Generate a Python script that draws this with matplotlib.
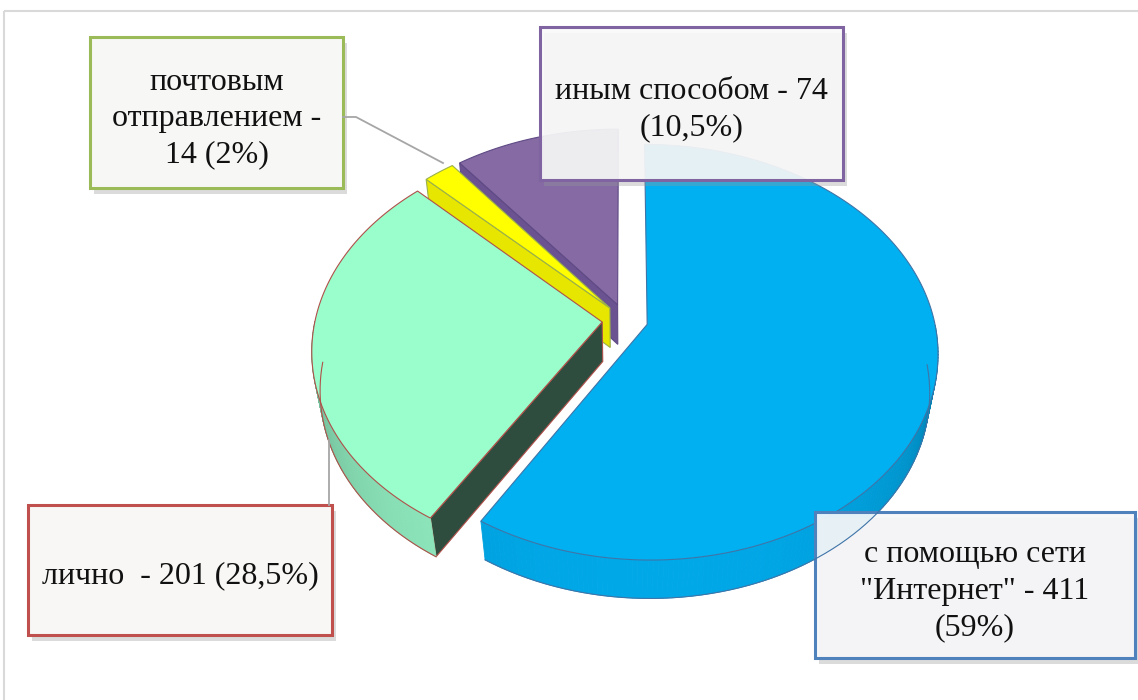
import numpy as np
import matplotlib
matplotlib.use("Agg")
import matplotlib.pyplot as plt
from matplotlib.patches import Polygon, Rectangle
import matplotlib.patheffects as pe
from matplotlib.colors import to_rgb

plt.rcParams['font.family'] = ['Liberation Serif', 'DejaVu Serif']

# данные
categories = ['с помощью сети\n"Интернет" - 411\n(59%)',
              'лично  - 201 (28,5%)',
              'почтовым\nотправлением -\n14 (2%)',
              'иным способом - 74\n(10,5%)']
counts = [411, 201, 14, 74]

top_colors = ['#00b0f0', '#99fecb', '#ffff00', '#856aa4']
side_colors = ['#00a8e8', '#90ecc0', '#e8e800', '#735a93']
face_colors = ['#0080c0', '#2f4d3f', '#e6e600', '#6b5290']
edge_colors = ['#3f74a8', '#b0504a', '#9bb04a', '#5f4a85']
box_colors = ['#4f81bd', '#c0504d', '#9bbb59', '#8064a2']

# геометрия (в пикселях)
CX, CY, R = 625, 320, 287
EL = np.radians(45)
DIST = 5.3
H = 0.2
EXPLODE = 0.08
START = 90


def project(x, y, z):
    ca, sa = np.cos(EL), np.sin(EL)
    up = y * sa + z * ca
    depth = y * ca - z * sa
    s = DIST / (DIST + depth)
    return CX + R * x * s, CY - R * up * s


def shade(color, k):
    c = np.array(to_rgb(color))
    return tuple(np.clip(c * k, 0, 1))


fig = plt.figure(figsize=(11.38, 7.0), dpi=100)
ax = fig.add_axes([0, 0, 1, 1])
ax.set_xlim(0, 1138)
ax.set_ylim(700, 0)
ax.axis('off')

ax.add_patch(Rectangle((4, 11), 1140, 700, fill=False, edgecolor='#d9d9d9', lw=1.5))

total = sum(counts)
cum = np.concatenate([[0], np.cumsum(counts)]) / total * 360.0
slices = []
for i in range(len(counts)):
    a0 = START - cum[i + 1]
    a1 = START - cum[i]
    mid = np.radians((a0 + a1) / 2)
    ox, oy = EXPLODE * np.cos(mid), EXPLODE * np.sin(mid)
    slices.append((i, np.radians(a0), np.radians(a1), ox, oy))

# рисуем от дальних к ближним
slices.sort(key=lambda s: -s[4])

for i, a0, a1, ox, oy in slices:
    t = np.linspace(a0, a1, 240)
    rx, ry = ox + np.cos(t), oy + np.sin(t)

    # радиальные грани
    for ang, sign in ((a0, -1), (a1, 1)):
        normal = ang + sign * np.pi / 2
        if np.sin(normal) < 0:
            pts = [(ox, oy, 0), (ox + np.cos(ang), oy + np.sin(ang), 0),
                   (ox + np.cos(ang), oy + np.sin(ang), -H), (ox, oy, -H)]
            xy = [project(*p) for p in pts]
            ax.add_patch(Polygon(xy, closed=True, facecolor=face_colors[i],
                                 edgecolor=edge_colors[i], lw=0.8))

    # внешняя боковая поверхность
    for j in range(len(t) - 1):
        tm = (t[j] + t[j + 1]) / 2
        if np.sin(tm) >= 0:
            continue
        k = 0.62 + 0.38 * (-np.sin(tm)) ** 0.6
        xy = [project(rx[j], ry[j], 0), project(rx[j + 1], ry[j + 1], 0),
              project(rx[j + 1], ry[j + 1], -H), project(rx[j], ry[j], -H)]
        c = shade(side_colors[i], k)
        ax.add_patch(Polygon(xy, closed=True, facecolor=c, edgecolor=c, lw=0.6))
    # контур боковой поверхности
    front = np.sin(t) < 0
    if front.any():
        bx, by = project(rx[front], ry[front], -H)
        ax.plot(bx, by, color=edge_colors[i], lw=0.8)

    # верхняя грань
    px, py = project(np.concatenate([[ox], rx]), np.concatenate([[oy], ry]), 0)
    ax.add_patch(Polygon(np.column_stack([px, py]), closed=True,
                         facecolor=top_colors[i], edgecolor=edge_colors[i], lw=0.8))

# выноски
ax.plot([343, 356, 443], [117, 117, 163], color='#a6a6a6', lw=1.3)
ax.plot([329, 329], [505, 440], color='#a6a6a6', lw=1.3)

# подписи в рамках
boxes = [(815, 512, 320, 146), (28, 505, 304, 130), (90, 37, 253, 151), (540, 27, 303, 153)]
fills = [(0.965, 0.967, 0.975, 0.93), (0.973, 0.967, 0.96, 1), (0.97, 0.97, 0.96, 1),
         (0.975, 0.975, 0.975, 0.9)]
for i, (bx, by, bw, bh) in enumerate(boxes):
    rect = Rectangle((bx, by), bw, bh, facecolor=fills[i], edgecolor=box_colors[i], lw=2.2,
                     path_effects=[pe.SimplePatchShadow(offset=(3, -4), shadow_rgbFace='#999999', alpha=0.35),
                                   pe.Normal()])
    ax.add_patch(rect)
    ax.text(bx + bw / 2, by + bh / 2 + 6, categories[i], ha='center', va='center',
            fontsize=23, linespacing=1.33, color='#111111')

fig.savefig('out.png', dpi=100)
